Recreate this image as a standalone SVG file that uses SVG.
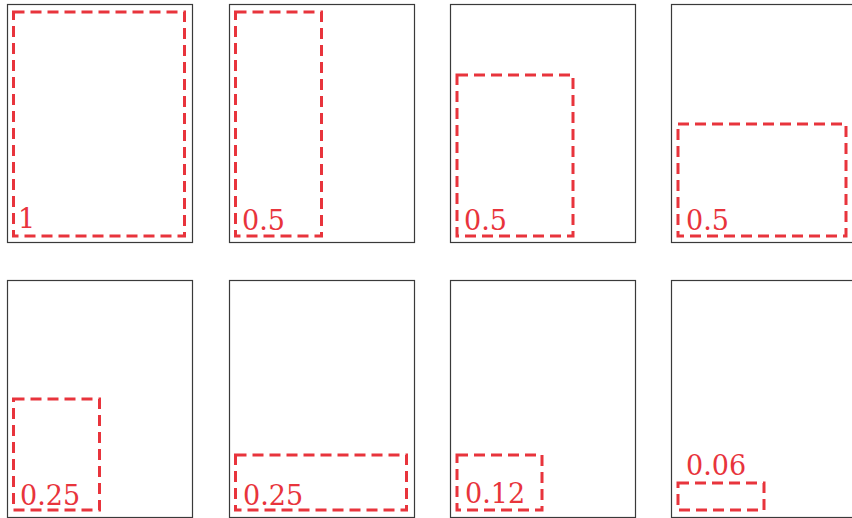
<svg xmlns="http://www.w3.org/2000/svg" width="852" height="518" viewBox="0 0 852 518">
<style>
.frame{fill:#fff;stroke:#3a3a3a;stroke-width:1.2}
.area{fill:none;stroke:#e8343c;stroke-width:3;stroke-dasharray:11 6}
.lbl{font-family:"DejaVu Serif","Liberation Serif",serif;font-size:27px;fill:#e8343c}
</style>
<rect width="852" height="518" fill="#fff"/>
<g id="panel1"><rect class="frame" x="7.5" y="4.5" width="185" height="238"/><rect class="area" x="13.5" y="12" width="171" height="224"/><text class="lbl" x="18" y="228">1</text></g>
<g id="panel2"><rect class="frame" x="229.5" y="4.5" width="185" height="238"/><rect class="area" x="235.5" y="12" width="86" height="224"/><text class="lbl" x="242" y="230">0.5</text></g>
<g id="panel3"><rect class="frame" x="450.5" y="4.5" width="185" height="238"/><rect class="area" x="457" y="75" width="116" height="161"/><text class="lbl" x="464" y="230">0.5</text></g>
<g id="panel4"><rect class="frame" x="671.5" y="4.5" width="190" height="238"/><rect class="area" x="678" y="124" width="168" height="112"/><text class="lbl" x="686" y="230">0.5</text></g>
<g id="panel5"><rect class="frame" x="7.5" y="280.5" width="185" height="237"/><rect class="area" x="13.5" y="399" width="86" height="111"/><text class="lbl" x="20" y="505">0.25</text></g>
<g id="panel6"><rect class="frame" x="229.5" y="280.5" width="185" height="237"/><rect class="area" x="235.5" y="455" width="171" height="55"/><text class="lbl" x="243" y="505">0.25</text></g>
<g id="panel7"><rect class="frame" x="450.5" y="280.5" width="185" height="237"/><rect class="area" x="457" y="455" width="85" height="55"/><text class="lbl" x="465" y="503">0.12</text></g>
<g id="panel8"><rect class="frame" x="671.5" y="280.5" width="190" height="237"/><rect class="area" x="678" y="483" width="86" height="27"/><text class="lbl" x="686" y="475">0.06</text></g>
<g id="connectors"/>
</svg>
